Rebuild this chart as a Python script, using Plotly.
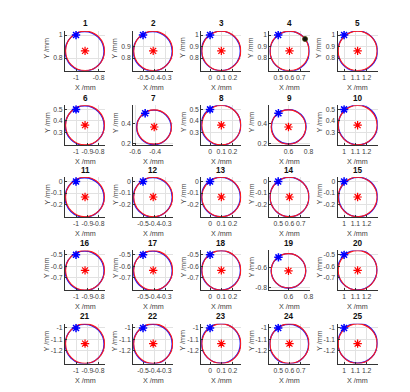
import plotly.graph_objects as go

W, H = 410, 392

# ---------------- data ----------------
panel_titles = [str(k) for k in range(1, 26)]
col_cx = [-0.92, -0.41, 0.10, 0.60, 1.12]          # reference circle centre X per column (mm)
row_cy = [0.862, 0.362, -0.135, -0.635, -1.137]    # reference circle centre Y per row (mm)
ref_radius = 0.172                                 # reference circle radius (mm)
start_x = [-1.0, -0.5, 0.0, 0.5, 1.0]              # start point X per column
start_y = [1.0, 0.5, 0.0, -0.5, -1.0]              # start point Y per row
# measured path: offset of its centre and radius change relative to reference circle (mm)
path_dx = [-0.004, -0.004, -0.004, 0.002, 0.000,
           -0.003, -0.003, -0.003, 0.003, 0.003,
           -0.004, -0.004, -0.004, 0.000, 0.004,
           -0.004, -0.004, -0.003, 0.000, -0.003,
           -0.004, -0.004, -0.004, -0.003, 0.000]
path_dy = [-0.004, -0.004, 0.000, -0.003, -0.002,
           -0.004, -0.003, 0.000, 0.003, 0.003,
           -0.004, -0.003, 0.000, 0.000, 0.000,
           -0.004, -0.004, 0.000, 0.000, 0.003,
           -0.004, -0.003, 0.002, -0.003, 0.004]
path_dr = [0.000, 0.000, 0.000, 0.002, 0.004,
           0.000, 0.000, 0.003, 0.000, 0.002,
           0.000, 0.000, 0.000, 0.000, 0.000,
           0.000, 0.000, 0.000, 0.000, 0.002,
           0.000, 0.000, 0.000, 0.000, 0.002]
extra_point_panel = 4
extra_point_xy = (0.738, 0.966)

col_xticks = [[-1, -0.9, -0.8], [-0.5, -0.4, -0.3], [0, 0.1, 0.2], [0.5, 0.6, 0.7], [1, 1.1, 1.2]]
row_yticks = [[0.8, 0.9, 1], [0.3, 0.4, 0.5], [-0.2, -0.1, 0], [-0.7, -0.6, -0.5], [-1.2, -1.1, -1]]
xtick_override = {1: [-1, -0.8], 7: [-0.6, -0.4], 9: [0.6, 0.8], 19: [0.6, 0.8]}
ytick_override = {1: [0.8, 1], 2: [0.8, 0.9], 7: [0.2, 0.4], 9: [0.2, 0.4], 19: [-0.8, -0.6]}
# panels drawn with a wider view
wide_ranges = {7: ([-0.62, -0.22], [0.18, 0.58]),
               9: ([0.41, 0.81], [0.18, 0.58]),
               19: ([0.41, 0.81], [-0.83, -0.43])}

# ---------------- layout geometry (pixels) ----------------
col_left = [54, 123.5, 193, 262.5, 332]
row_top = [23, 97.5, 169.5, 243, 316.5]
box_w, box_h = 41, 40
half_x, half_y = 0.178, 0.174

TICK_COLOR = "#404040"
FONT = "Liberation Sans, Arial, sans-serif"
TSIZE = 6.8


def fmt(v):
    return f"{v:g}"


fig = go.Figure()
layout = dict(width=W, height=H, margin=dict(l=0, r=0, t=0, b=0),
              paper_bgcolor="white", plot_bgcolor="white", showlegend=False,
              font=dict(family=FONT, size=TSIZE, color=TICK_COLOR))
shapes, annotations = [], []

for idx in range(25):
    p = idx + 1
    r, c = divmod(idx, 5)
    cx, cy = col_cx[c], row_cy[r]
    sfx = "" if p == 1 else str(p)
    xa, ya = "x" + sfx, "y" + sfx

    x0p = col_left[c]
    y0p = row_top[r]
    dom_x = [x0p / W, (x0p + box_w) / W]
    dom_y = [1 - (y0p + box_h) / H, 1 - y0p / H]

    if p in wide_ranges:
        xr, yr = wide_ranges[p]
    else:
        xr = [cx - half_x, cx + half_x]
        yr = [cy - half_y, cy + half_y]

    xt = xtick_override.get(p, col_xticks[c])
    yt = ytick_override.get(p, row_yticks[r])

    axis_common = dict(showgrid=True, gridcolor="#e2e2e2", gridwidth=0.8,
                       zeroline=False, showline=True, linecolor="#333333", linewidth=1,
                       mirror=False, ticks="inside", ticklen=2, tickcolor="#333333",
                       tickfont=dict(family=FONT, size=TSIZE, color=TICK_COLOR),
                       fixedrange=True)
    layout["xaxis" + sfx] = dict(domain=dom_x, anchor=ya, range=xr,
                                 tickvals=xt, ticktext=[fmt(v) for v in xt],
                                 tickangle=0, **axis_common)
    layout["yaxis" + sfx] = dict(domain=dom_y, anchor=xa, range=yr,
                                 tickvals=yt, ticktext=[fmt(v) for v in yt],
                                 **axis_common)

    # measured path (blue) then reference circle (red)
    br = ref_radius + path_dr[idx]
    bx, by = cx + path_dx[idx], cy + path_dy[idx]
    shapes.append(dict(type="circle", xref=xa, yref=ya, layer="between",
                       x0=bx - br, x1=bx + br, y0=by - br, y1=by + br,
                       line=dict(color="#1a1aff", width=1.3)))
    shapes.append(dict(type="circle", xref=xa, yref=ya, layer="between",
                       x0=cx - ref_radius, x1=cx + ref_radius,
                       y0=cy - ref_radius, y1=cy + ref_radius,
                       line=dict(color="#ff1a1a", width=1.1)))

    # centre star
    fig.add_trace(go.Scatter(x=[cx], y=[cy], xaxis=xa, yaxis=ya, mode="markers",
                             marker=dict(symbol="asterisk-open", size=7, color="red",
                                         line=dict(color="red", width=1.2)),
                             hoverinfo="skip"))
    # start star
    fig.add_trace(go.Scatter(x=[start_x[c]], y=[start_y[r]], xaxis=xa, yaxis=ya,
                             mode="markers",
                             marker=dict(symbol="asterisk-open", size=7, color="blue",
                                         line=dict(color="blue", width=1.5)),
                             hoverinfo="skip"))
    if p == extra_point_panel:
        fig.add_trace(go.Scatter(x=[extra_point_xy[0]], y=[extra_point_xy[1]],
                                 xaxis=xa, yaxis=ya, mode="markers",
                                 marker=dict(symbol="circle", size=5, color="#111111",
                                             line=dict(color="#444400", width=0.8)),
                                 hoverinfo="skip"))

    # title
    annotations.append(dict(text="<b>" + panel_titles[idx] + "</b>", xref="paper", yref="paper",
                            x=(x0p + box_w / 2) / W, y=1 - (y0p - 1.5) / H,
                            xanchor="center", yanchor="bottom", showarrow=False,
                            borderpad=0,
                            font=dict(family=FONT, size=8.2, color="#111111")))
    # x label
    annotations.append(dict(text="X /mm", xref="paper", yref="paper",
                            x=(x0p + box_w / 2) / W, y=1 - (y0p + box_h + 16.5) / H,
                            xanchor="center", yanchor="middle", showarrow=False,
                            borderpad=0,
                            font=dict(family=FONT, size=7.2, color=TICK_COLOR)))
    # y label
    annotations.append(dict(text="Y /mm", xref="paper", yref="paper", textangle=-90,
                            x=(x0p - 18.5) / W, y=1 - (y0p + box_h / 2 - 3) / H,
                            xanchor="center", yanchor="middle", showarrow=False,
                            borderpad=0,
                            font=dict(family=FONT, size=7.2, color=TICK_COLOR)))

layout["shapes"] = shapes
layout["annotations"] = annotations
fig.update_layout(**layout)
fig.write_html("out.html")
